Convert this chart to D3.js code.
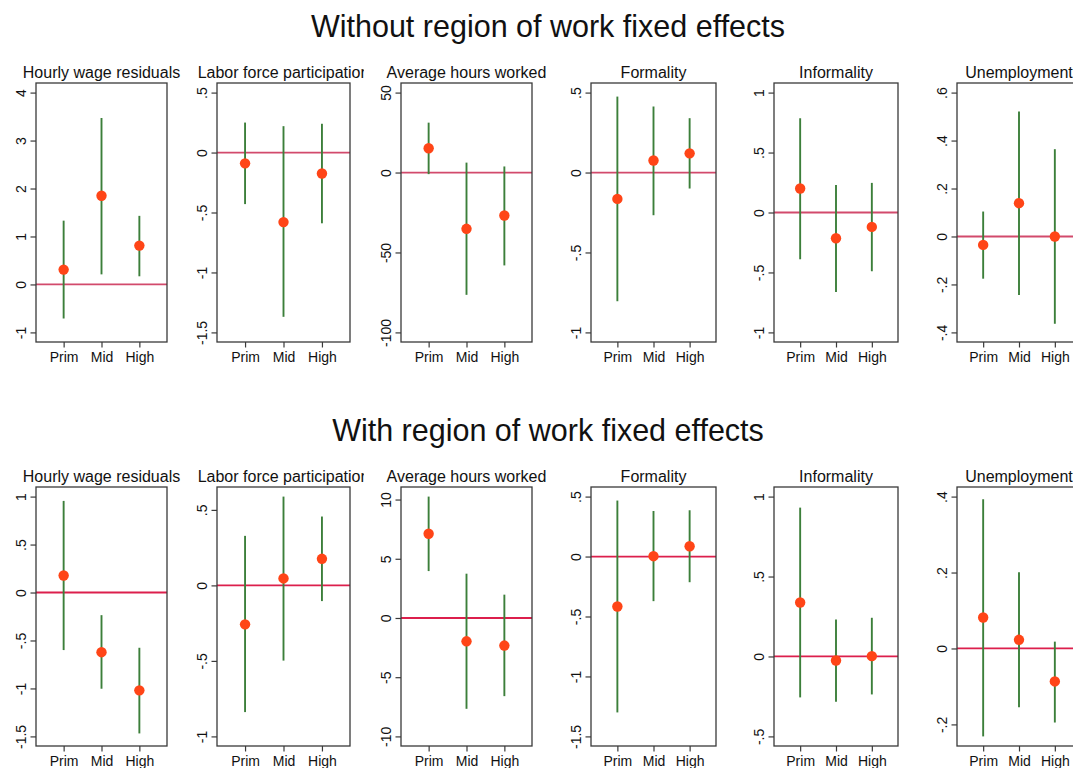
<!DOCTYPE html>
<html>
<head>
<meta charset="utf-8">
<script src="https://cdn.jsdelivr.net/npm/d3@7"></script>
<style>
  html, body { margin: 0; padding: 0; background: #fff; }
  svg { display: block; font-family: "Liberation Sans", Arial, Helvetica, sans-serif; }
</style>
</head>
<body>
<svg id="chart" width="1073" height="768"></svg>
<script>
// Education groups on the x axis
const categories = ["Prim", "Mid", "High"];

// Row headings and outcome names
const rowTitles = ["Without region of work fixed effects", "With region of work fixed effects"];
const outcomes = ["Hourly wage residuals", "Labor force participation", "Average hours worked",
                  "Formality", "Informality", "Unemployment"];

// Point estimates and confidence bounds, one inner array per outcome (Prim, Mid, High)
const estWithout = [
  [0.31, 1.85, 0.81],
  [-0.09, -0.58, -0.175],
  [15.2, -35.2, -26.9],
  [-0.165, 0.075, 0.12],
  [0.20, -0.215, -0.12],
  [-0.035, 0.139, 0.0]
];
const lowWithout = [
  [-0.71, 0.21, 0.17],
  [-0.43, -1.37, -0.59],
  [-1.0, -76.5, -58.1],
  [-0.805, -0.267, -0.10],
  [-0.39, -0.664, -0.49],
  [-0.176, -0.244, -0.364]
];
const highWithout = [
  [1.33, 3.47, 1.43],
  [0.25, 0.22, 0.24],
  [31.2, 6.2, 3.8],
  [0.475, 0.413, 0.34],
  [0.786, 0.23, 0.247],
  [0.104, 0.521, 0.364]
];

const estWith = [
  [0.177, -0.622, -1.02],
  [-0.258, 0.046, 0.176],
  [7.11, -1.97, -2.33],
  [-0.417, 0.003, 0.086],
  [0.3375, -0.025, 0.002],
  [0.0816, 0.0228, -0.0868]
];
const lowWith = [
  [-0.60, -1.003, -1.469],
  [-0.839, -0.498, -0.104],
  [3.96, -7.67, -6.6],
  [-1.30, -0.372, -0.214],
  [-0.256, -0.283, -0.2375],
  [-0.2316, -0.155, -0.195]
];
const highWith = [
  [0.955, -0.236, -0.576],
  [0.328, 0.588, 0.456],
  [10.25, 3.74, 1.97],
  [0.467, 0.38, 0.386],
  [0.931, 0.231, 0.242],
  [0.393, 0.201, 0.018]
];

// Y-axis tick values per outcome
const ticksWithout = [
  [-1, 0, 1, 2, 3, 4],
  [-1.5, -1, -0.5, 0, 0.5],
  [-100, -50, 0, 50],
  [-1, -0.5, 0, 0.5],
  [-1, -0.5, 0, 0.5, 1],
  [-0.4, -0.2, 0, 0.2, 0.4, 0.6]
];
const ticksWith = [
  [-1.5, -1, -0.5, 0, 0.5, 1],
  [-1, -0.5, 0, 0.5],
  [-10, -5, 0, 5, 10],
  [-1.5, -1, -0.5, 0, 0.5],
  [-0.5, 0, 0.5, 1],
  [-0.2, 0, 0.2, 0.4]
];

// ---- layout ----
const plotLeft  = [36, 217, 401, 591, 774, 957];
const plotRight = [167, 350, 532, 716, 898, 1081];
const rowOffset = 404;
const boxTop = 83, boxBottom = 342;
const titleBase = 78;
const headBase = 37;
const headX = 548;

const colors = {
  ci: "#3c7f3a",
  point: "#ff4517",
  zero: ["#d24a6c", "#dc1f4c"],
  frame: "#3a3a3a",
  text: "#111"
};

// Stata-style number labels: ".5", "-.5", "-1.5"
function fmt(v) {
  const r = Math.round(v * 1000) / 1000;
  let s = String(r);
  s = s.replace(/^(-?)0\./, "$1.");
  return s;
}

const svg = d3.select("#chart");
const defs = svg.append("defs");

const rows = [
  { title: rowTitles[0], est: estWithout, lo: lowWithout, hi: highWithout, ticks: ticksWithout },
  { title: rowTitles[1], est: estWith, lo: lowWith, hi: highWith, ticks: ticksWith }
];

rows.forEach((row, ri) => {
  const dy = ri * rowOffset;

  svg.append("text")
    .attr("x", headX).attr("y", headBase + dy)
    .attr("text-anchor", "middle")
    .attr("font-size", 30.5)
    .attr("fill", colors.text)
    .text(row.title);

  outcomes.forEach((name, pi) => {
    const x0 = plotLeft[pi], x1 = plotRight[pi];
    const y0 = boxTop + dy, y1 = boxBottom + dy;

    const ticks = row.ticks[pi];
    const vals = ticks.concat(row.lo[pi], row.hi[pi], row.est[pi]);
    const lo = d3.min(vals), hi = d3.max(vals);
    const pad = (hi - lo) * 0.04;

    const y = d3.scaleLinear().domain([lo - pad, hi + pad]).range([y1, y0]);
    const x = d3.scalePoint().domain(categories).range([x0, x1]).padding(0.73);

    const g = svg.append("g");

    // panel title, clipped to its own cell
    const clipId = "clip-" + ri + "-" + pi;
    defs.append("clipPath").attr("id", clipId)
      .append("rect")
      .attr("x", x0 - 60).attr("y", y0 - 40)
      .attr("width", (x1 + 14) - (x0 - 60)).attr("height", 40);
    g.append("text")
      .attr("clip-path", "url(#" + clipId + ")")
      .attr("x", (x0 + x1) / 2).attr("y", titleBase + dy)
      .attr("text-anchor", "middle")
      .attr("font-size", 16)
      .attr("fill", colors.text)
      .text(name);

    // zero reference line
    g.append("line")
      .attr("x1", x0).attr("x2", x1)
      .attr("y1", y(0)).attr("y2", y(0))
      .attr("stroke", colors.zero[ri])
      .attr("stroke-width", 1.8);

    // confidence intervals
    g.selectAll("line.ci")
      .data(categories)
      .join("line")
      .attr("class", "ci")
      .attr("x1", d => x(d)).attr("x2", d => x(d))
      .attr("y1", (d, i) => y(row.lo[pi][i]))
      .attr("y2", (d, i) => y(row.hi[pi][i]))
      .attr("stroke", colors.ci)
      .attr("stroke-width", 1.9);

    // point estimates
    g.selectAll("circle.pt")
      .data(categories)
      .join("circle")
      .attr("class", "pt")
      .attr("cx", d => x(d))
      .attr("cy", (d, i) => y(row.est[pi][i]))
      .attr("r", 5.2)
      .attr("fill", colors.point);

    // plot frame
    g.append("rect")
      .attr("x", x0).attr("y", y0)
      .attr("width", x1 - x0).attr("height", y1 - y0)
      .attr("fill", "none")
      .attr("stroke", colors.frame)
      .attr("stroke-width", 1.3);

    // y axis: ticks with rotated labels
    const yAxis = d3.axisLeft(y).tickValues(ticks).tickSize(5.5).tickPadding(0).tickFormat(fmt);
    const ya = g.append("g").attr("transform", "translate(" + x0 + ",0)").call(yAxis);
    ya.select(".domain").remove();
    ya.selectAll(".tick line").attr("stroke", colors.frame).attr("stroke-width", 1.2);
    ya.selectAll(".tick text")
      .attr("x", null).attr("dy", null)
      .attr("transform", "translate(-10.5,0) rotate(-90)")
      .attr("text-anchor", "middle")
      .attr("font-size", 14)
      .attr("font-family", "Liberation Sans, Arial, sans-serif")
      .attr("fill", colors.text);

    // x axis: category labels
    const xAxis = d3.axisBottom(x).tickSize(5.5).tickPadding(0);
    const xa = g.append("g").attr("transform", "translate(0," + y1 + ")").call(xAxis);
    xa.select(".domain").remove();
    xa.selectAll(".tick line").attr("stroke", colors.frame).attr("stroke-width", 1.2);
    xa.selectAll(".tick text")
      .attr("y", 19.7).attr("dy", null)
      .attr("font-size", 14)
      .attr("font-family", "Liberation Sans, Arial, sans-serif")
      .attr("fill", colors.text);
  });
});
</script>
</body>
</html>
